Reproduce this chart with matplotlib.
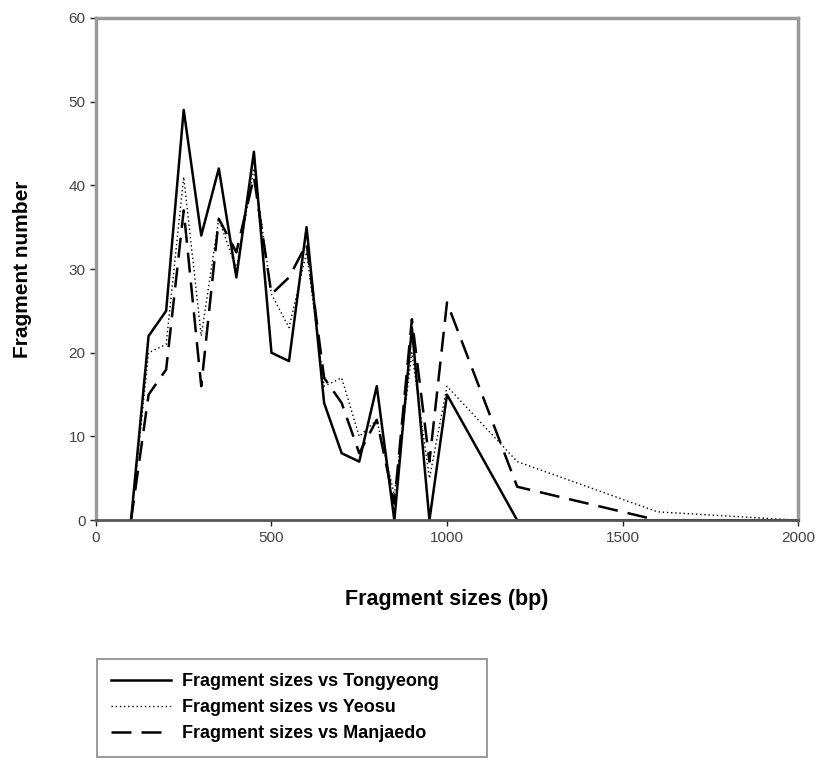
import matplotlib
matplotlib.use("Agg")
import matplotlib.pyplot as plt

sizes = [100, 150, 200, 250, 300, 350, 400, 450, 500, 550, 600, 650, 700, 750,
         800, 850, 900, 950, 1000, 1200, 1600, 2000]
tongyeong = [0, 22, 25, 49, 34, 42, 29, 44, 20, 19, 35, 14, 8, 7,
             16, 0, 23, 0, 15, 0, 0, 0]
yeosu = [0, 20, 21, 41, 22, 36, 30, 42, 27, 23, 32, 16, 17, 10,
         12, 3, 20, 5, 16, 7, 1, 0]
manjaedo = [0, 15, 18, 37, 16, 36, 32, 41, 27, 29, 33, 17, 14, 8,
            12, 2, 24, 7, 26, 4, 0, 0]
labels = ["Fragment sizes vs Tongyeong", "Fragment sizes vs Yeosu",
          "Fragment sizes vs Manjaedo"]
xticks = [0, 500, 1000, 1500, 2000]
yticks = [0, 10, 20, 30, 40, 50, 60]

plt.rcParams['font.family'] = ['Liberation Sans', 'DejaVu Sans']

fig = plt.figure(figsize=(8.27, 7.73), dpi=100)
ax = fig.add_axes([0.116, 0.327, 0.849, 0.650])

l1, = ax.plot(sizes, tongyeong, color='black', lw=1.8, linestyle='-')
l2, = ax.plot(sizes, yeosu, color='black', lw=1.0, linestyle=(0, (1, 2)))
l3, = ax.plot(sizes, manjaedo, color='black', lw=1.8, linestyle=(0, (8, 4)))

ax.set_xlim(0, 2000)
ax.set_ylim(0, 60)
ax.set_xticks(xticks)
ax.set_yticks(yticks)
ax.tick_params(direction='out', length=4, width=1, colors='#222',
               labelsize=11, labelcolor='#444')
for s in ax.spines.values():
    s.set_color('#9a9a9a')
    s.set_linewidth(2.5)
ax.spines['bottom'].set_color('#555')
ax.spines['bottom'].set_linewidth(2)

ax.set_xlabel('Fragment sizes (bp)', fontsize=15.5, fontweight='bold', labelpad=32)
ax.set_ylabel('Fragment number', fontsize=15, fontweight='bold', labelpad=26)

leg = fig.legend([l1, l2, l3], labels, loc='lower left',
                 bbox_to_anchor=(0.117, 0.021, 0.472, 0.132), mode='expand',
                 prop={'weight': 'bold', 'size': 13}, handlelength=3.3,
                 fancybox=False, framealpha=1, borderpad=0.8,
                 borderaxespad=0, labelspacing=0.5, handletextpad=0.6)
leg.get_frame().set_edgecolor('#888')
leg.get_frame().set_linewidth(1.2)

fig.savefig('out.png', dpi=100)
